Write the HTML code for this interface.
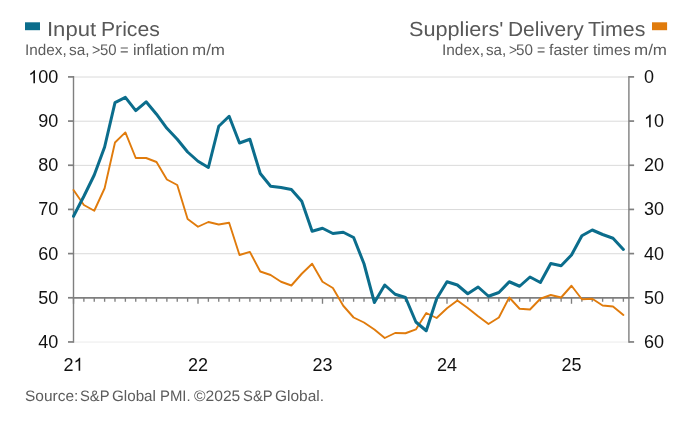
<!DOCTYPE html>
<html><head><meta charset="utf-8">
<style>
html,body{margin:0;padding:0;background:#fff;}
body{width:696px;height:422px;position:relative;overflow:hidden;font-family:"Liberation Sans",sans-serif;}
.t{position:absolute;white-space:nowrap;color:#4a4a4a;}
.yl{position:absolute;left:0;width:58.3px;text-align:right;font-size:18px;line-height:20px;color:#111;}
.yr{position:absolute;left:644px;font-size:18px;line-height:20px;color:#111;}
.xl{position:absolute;top:354.5px;width:40px;text-align:center;font-size:18px;line-height:20px;color:#111;}
svg{position:absolute;left:0;top:0;}
.tk{position:absolute;white-space:pre;transform-origin:0 0;line-height:1.2;}
.gT{font-size:20.3px;top:17.1px;color:#585858;}
.gS{font-size:15.4px;top:41.3px;color:#5c5c5c;}
.gF{font-size:15.2px;top:386.7px;color:#5c5c5c;}

</style></head><body>
<svg width="696" height="422" viewBox="0 0 696 422">
<line x1="73.5" y1="77.02" x2="628.9" y2="77.02" stroke="#dadada" stroke-width="1"/>
<line x1="73.5" y1="121.20" x2="628.9" y2="121.20" stroke="#dadada" stroke-width="1"/>
<line x1="73.5" y1="165.37" x2="628.9" y2="165.37" stroke="#dadada" stroke-width="1"/>
<line x1="73.5" y1="209.54" x2="628.9" y2="209.54" stroke="#dadada" stroke-width="1"/>
<line x1="73.5" y1="253.72" x2="628.9" y2="253.72" stroke="#dadada" stroke-width="1"/>
<line x1="73.5" y1="342.07" x2="628.9" y2="342.07" stroke="#ebebeb" stroke-width="1"/>

<line x1="73.5" y1="76" x2="73.5" y2="342.8" stroke="#7f7f7f" stroke-width="1.4"/>
<line x1="628.9" y1="76" x2="628.9" y2="342.8" stroke="#7f7f7f" stroke-width="1.4"/>
<line x1="73.5" y1="297.88" x2="628.9" y2="297.88" stroke="#7f7f7f" stroke-width="1.7"/>
<line x1="73.50" y1="297.77" x2="73.50" y2="303.77" stroke="#7f7f7f" stroke-width="1.35"/>
<line x1="83.88" y1="297.77" x2="83.88" y2="301.77" stroke="#7f7f7f" stroke-width="1.35"/>
<line x1="94.25" y1="297.77" x2="94.25" y2="301.77" stroke="#7f7f7f" stroke-width="1.35"/>
<line x1="104.62" y1="297.77" x2="104.62" y2="301.77" stroke="#7f7f7f" stroke-width="1.35"/>
<line x1="115.00" y1="297.77" x2="115.00" y2="301.77" stroke="#7f7f7f" stroke-width="1.35"/>
<line x1="125.38" y1="297.77" x2="125.38" y2="301.77" stroke="#7f7f7f" stroke-width="1.35"/>
<line x1="135.75" y1="297.77" x2="135.75" y2="301.77" stroke="#7f7f7f" stroke-width="1.35"/>
<line x1="146.12" y1="297.77" x2="146.12" y2="301.77" stroke="#7f7f7f" stroke-width="1.35"/>
<line x1="156.50" y1="297.77" x2="156.50" y2="301.77" stroke="#7f7f7f" stroke-width="1.35"/>
<line x1="166.88" y1="297.77" x2="166.88" y2="301.77" stroke="#7f7f7f" stroke-width="1.35"/>
<line x1="177.25" y1="297.77" x2="177.25" y2="301.77" stroke="#7f7f7f" stroke-width="1.35"/>
<line x1="187.62" y1="297.77" x2="187.62" y2="301.77" stroke="#7f7f7f" stroke-width="1.35"/>
<line x1="198.00" y1="297.77" x2="198.00" y2="303.77" stroke="#7f7f7f" stroke-width="1.35"/>
<line x1="208.38" y1="297.77" x2="208.38" y2="301.77" stroke="#7f7f7f" stroke-width="1.35"/>
<line x1="218.75" y1="297.77" x2="218.75" y2="301.77" stroke="#7f7f7f" stroke-width="1.35"/>
<line x1="229.12" y1="297.77" x2="229.12" y2="301.77" stroke="#7f7f7f" stroke-width="1.35"/>
<line x1="239.50" y1="297.77" x2="239.50" y2="301.77" stroke="#7f7f7f" stroke-width="1.35"/>
<line x1="249.88" y1="297.77" x2="249.88" y2="301.77" stroke="#7f7f7f" stroke-width="1.35"/>
<line x1="260.25" y1="297.77" x2="260.25" y2="301.77" stroke="#7f7f7f" stroke-width="1.35"/>
<line x1="270.62" y1="297.77" x2="270.62" y2="301.77" stroke="#7f7f7f" stroke-width="1.35"/>
<line x1="281.00" y1="297.77" x2="281.00" y2="301.77" stroke="#7f7f7f" stroke-width="1.35"/>
<line x1="291.38" y1="297.77" x2="291.38" y2="301.77" stroke="#7f7f7f" stroke-width="1.35"/>
<line x1="301.75" y1="297.77" x2="301.75" y2="301.77" stroke="#7f7f7f" stroke-width="1.35"/>
<line x1="312.12" y1="297.77" x2="312.12" y2="301.77" stroke="#7f7f7f" stroke-width="1.35"/>
<line x1="322.50" y1="297.77" x2="322.50" y2="303.77" stroke="#7f7f7f" stroke-width="1.35"/>
<line x1="332.88" y1="297.77" x2="332.88" y2="301.77" stroke="#7f7f7f" stroke-width="1.35"/>
<line x1="343.25" y1="297.77" x2="343.25" y2="301.77" stroke="#7f7f7f" stroke-width="1.35"/>
<line x1="353.62" y1="297.77" x2="353.62" y2="301.77" stroke="#7f7f7f" stroke-width="1.35"/>
<line x1="364.00" y1="297.77" x2="364.00" y2="301.77" stroke="#7f7f7f" stroke-width="1.35"/>
<line x1="374.38" y1="297.77" x2="374.38" y2="301.77" stroke="#7f7f7f" stroke-width="1.35"/>
<line x1="384.75" y1="297.77" x2="384.75" y2="301.77" stroke="#7f7f7f" stroke-width="1.35"/>
<line x1="395.12" y1="297.77" x2="395.12" y2="301.77" stroke="#7f7f7f" stroke-width="1.35"/>
<line x1="405.50" y1="297.77" x2="405.50" y2="301.77" stroke="#7f7f7f" stroke-width="1.35"/>
<line x1="415.88" y1="297.77" x2="415.88" y2="301.77" stroke="#7f7f7f" stroke-width="1.35"/>
<line x1="426.25" y1="297.77" x2="426.25" y2="301.77" stroke="#7f7f7f" stroke-width="1.35"/>
<line x1="436.62" y1="297.77" x2="436.62" y2="301.77" stroke="#7f7f7f" stroke-width="1.35"/>
<line x1="447.00" y1="297.77" x2="447.00" y2="303.77" stroke="#7f7f7f" stroke-width="1.35"/>
<line x1="457.38" y1="297.77" x2="457.38" y2="301.77" stroke="#7f7f7f" stroke-width="1.35"/>
<line x1="467.75" y1="297.77" x2="467.75" y2="301.77" stroke="#7f7f7f" stroke-width="1.35"/>
<line x1="478.12" y1="297.77" x2="478.12" y2="301.77" stroke="#7f7f7f" stroke-width="1.35"/>
<line x1="488.50" y1="297.77" x2="488.50" y2="301.77" stroke="#7f7f7f" stroke-width="1.35"/>
<line x1="498.88" y1="297.77" x2="498.88" y2="301.77" stroke="#7f7f7f" stroke-width="1.35"/>
<line x1="509.25" y1="297.77" x2="509.25" y2="301.77" stroke="#7f7f7f" stroke-width="1.35"/>
<line x1="519.62" y1="297.77" x2="519.62" y2="301.77" stroke="#7f7f7f" stroke-width="1.35"/>
<line x1="530.00" y1="297.77" x2="530.00" y2="301.77" stroke="#7f7f7f" stroke-width="1.35"/>
<line x1="540.38" y1="297.77" x2="540.38" y2="301.77" stroke="#7f7f7f" stroke-width="1.35"/>
<line x1="550.75" y1="297.77" x2="550.75" y2="301.77" stroke="#7f7f7f" stroke-width="1.35"/>
<line x1="561.12" y1="297.77" x2="561.12" y2="301.77" stroke="#7f7f7f" stroke-width="1.35"/>
<line x1="571.50" y1="297.77" x2="571.50" y2="303.77" stroke="#7f7f7f" stroke-width="1.35"/>
<line x1="581.88" y1="297.77" x2="581.88" y2="301.77" stroke="#7f7f7f" stroke-width="1.35"/>
<line x1="592.25" y1="297.77" x2="592.25" y2="301.77" stroke="#7f7f7f" stroke-width="1.35"/>
<line x1="602.62" y1="297.77" x2="602.62" y2="301.77" stroke="#7f7f7f" stroke-width="1.35"/>
<line x1="613.00" y1="297.77" x2="613.00" y2="301.77" stroke="#7f7f7f" stroke-width="1.35"/>
<line x1="623.38" y1="297.77" x2="623.38" y2="301.77" stroke="#7f7f7f" stroke-width="1.35"/>

<line x1="68" y1="76.90" x2="73.5" y2="76.90" stroke="#7f7f7f" stroke-width="1.7"/>
<line x1="628.9" y1="76.90" x2="634.1" y2="76.90" stroke="#7f7f7f" stroke-width="1.7"/>
<line x1="68" y1="121.08" x2="73.5" y2="121.08" stroke="#7f7f7f" stroke-width="1.7"/>
<line x1="628.9" y1="121.08" x2="634.1" y2="121.08" stroke="#7f7f7f" stroke-width="1.7"/>
<line x1="68" y1="165.25" x2="73.5" y2="165.25" stroke="#7f7f7f" stroke-width="1.7"/>
<line x1="628.9" y1="165.25" x2="634.1" y2="165.25" stroke="#7f7f7f" stroke-width="1.7"/>
<line x1="68" y1="209.42" x2="73.5" y2="209.42" stroke="#7f7f7f" stroke-width="1.7"/>
<line x1="628.9" y1="209.42" x2="634.1" y2="209.42" stroke="#7f7f7f" stroke-width="1.7"/>
<line x1="68" y1="253.60" x2="73.5" y2="253.60" stroke="#7f7f7f" stroke-width="1.7"/>
<line x1="628.9" y1="253.60" x2="634.1" y2="253.60" stroke="#7f7f7f" stroke-width="1.7"/>
<line x1="68" y1="297.77" x2="73.5" y2="297.77" stroke="#7f7f7f" stroke-width="1.7"/>
<line x1="628.9" y1="297.77" x2="634.1" y2="297.77" stroke="#7f7f7f" stroke-width="1.7"/>
<line x1="68" y1="341.95" x2="73.5" y2="341.95" stroke="#7f7f7f" stroke-width="1.7"/>
<line x1="628.9" y1="341.95" x2="634.1" y2="341.95" stroke="#7f7f7f" stroke-width="1.7"/>

<polyline points="73.50,190.00 83.88,205.00 94.25,210.75 104.62,188.25 115.00,142.50 125.38,132.40 135.75,158.00 146.12,158.00 156.50,162.00 166.88,179.50 177.25,185.00 187.62,219.00 198.00,226.75 208.38,222.00 218.75,224.50 229.12,222.75 239.50,255.00 249.88,251.90 260.25,271.50 270.62,275.00 281.00,281.75 291.38,285.50 301.75,273.75 312.12,263.75 322.50,281.75 332.88,288.00 343.25,305.75 353.62,317.50 364.00,322.50 374.38,329.50 384.75,338.00 395.12,333.00 405.50,333.25 415.88,329.40 426.25,313.00 436.62,318.00 447.00,308.25 457.38,300.50 467.75,308.00 478.12,316.25 488.50,324.00 498.88,317.50 509.25,297.50 519.62,308.75 530.00,309.50 540.38,298.75 550.75,295.00 561.12,297.50 571.50,285.75 581.88,299.25 592.25,298.75 602.62,305.50 613.00,306.50 623.38,315.00" fill="none" stroke="#e07b0c" stroke-width="1.9" stroke-linejoin="round" stroke-linecap="round"/>
<polyline points="73.50,216.25 83.88,196.25 94.25,175.00 104.62,147.00 115.00,102.60 125.38,97.40 135.75,110.60 146.12,101.80 156.50,114.20 166.88,128.30 177.25,139.20 187.62,152.00 198.00,161.25 208.38,167.50 218.75,126.25 229.12,116.25 239.50,143.00 249.88,139.25 260.25,173.50 270.62,186.25 281.00,187.50 291.38,189.40 301.75,201.25 312.12,231.25 322.50,228.25 332.88,233.50 343.25,232.25 353.62,237.50 364.00,263.75 374.38,302.50 384.75,285.00 395.12,294.25 405.50,297.50 415.88,322.00 426.25,330.75 436.62,298.75 447.00,281.75 457.38,285.00 467.75,293.75 478.12,287.00 488.50,296.25 498.88,292.50 509.25,281.75 519.62,286.25 530.00,277.00 540.38,282.50 550.75,263.50 561.12,265.75 571.50,255.00 581.88,235.75 592.25,230.00 602.62,234.50 613.00,238.25 623.38,249.50" fill="none" stroke="#0b6d8c" stroke-width="3.0" stroke-linejoin="round" stroke-linecap="round"/>
<path d="M763 0H583V1147Q518 1085 412.5 1023Q307 961 223 930V1104Q374 1175 487 1276Q600 1377 647 1472H763Z" transform="translate(28.268,83.140) scale(0.008789,-0.008789)" fill="#111"/>
<path d="M763 0H583V1147Q518 1085 412.5 1023Q307 961 223 930V1104Q374 1175 487 1276Q600 1377 647 1472H763Z" transform="translate(644.000,127.315) scale(0.008789,-0.008789)" fill="#111"/>
<path d="M763 0H583V1147Q518 1085 412.5 1023Q307 961 223 930V1104Q374 1175 487 1276Q600 1377 647 1472H763Z" transform="translate(73.500,370.740) scale(0.008789,-0.008789)" fill="#111"/>
<rect x="25" y="22.3" width="15" height="7.9" fill="#0b6d8c"/>
<rect x="652" y="22.3" width="15.1" height="7.9" fill="#e07b0c"/>
</svg>
<div style="will-change:transform;position:absolute;left:0;top:0;width:696px;height:422px;">
<span class="tk gT" style="left:46.60px;transform:scaleX(1.088) rotate(0.03deg)">Input</span>
<span class="tk gT" style="left:101.16px;transform:scaleX(1.043) rotate(0.03deg)">Prices</span>
<span class="tk gT" style="left:408.90px;transform:scaleX(1.068) rotate(0.03deg)">Suppliers'</span>
<span class="tk gT" style="left:507.90px;transform:scaleX(1.033) rotate(0.03deg)">Delivery</span>
<span class="tk gT" style="left:587.70px;transform:scaleX(1.053) rotate(0.03deg)">Times</span>
<span class="tk gS" style="left:25.15px;transform:scaleX(0.993) rotate(0.03deg)">Index,</span>
<span class="tk gS" style="left:69.00px;transform:scaleX(1.000) rotate(0.03deg)">sa,</span>
<span class="tk gS" style="left:92.23px;transform:scaleX(0.925) rotate(0.03deg)">&gt;</span>
<span class="tk gS" style="left:99.88px;transform:scaleX(0.971) rotate(0.03deg)">50</span>
<span class="tk gS" style="left:119.55px;transform:scaleX(0.953) rotate(0.03deg)">=</span>
<span class="tk gS" style="left:132.78px;transform:scaleX(1.049) rotate(0.03deg)">inflation</span>
<span class="tk gS" style="left:191.72px;transform:scaleX(1.104) rotate(0.03deg)">m/m</span>
<span class="tk gS" style="left:442.00px;transform:scaleX(1.000) rotate(0.03deg)">Index,</span>
<span class="tk gS" style="left:486.13px;transform:scaleX(0.987) rotate(0.03deg)">sa,</span>
<span class="tk gS" style="left:508.82px;transform:scaleX(0.893) rotate(0.03deg)">&gt;</span>
<span class="tk gS" style="left:515.68px;transform:scaleX(0.989) rotate(0.03deg)">50</span>
<span class="tk gS" style="left:536.94px;transform:scaleX(0.916) rotate(0.03deg)">=</span>
<span class="tk gS" style="left:549.25px;transform:scaleX(1.028) rotate(0.03deg)">faster</span>
<span class="tk gS" style="left:593.10px;transform:scaleX(1.021) rotate(0.03deg)">times</span>
<span class="tk gS" style="left:633.72px;transform:scaleX(1.104) rotate(0.03deg)">m/m</span>
<span class="tk gF" style="left:24.85px;transform:scaleX(1.020) rotate(0.03deg)">Source:</span>
<span class="tk gF" style="left:79.90px;transform:scaleX(0.971) rotate(0.03deg)">S&amp;P</span>
<span class="tk gF" style="left:112.00px;transform:scaleX(1.000) rotate(0.03deg)">Global</span>
<span class="tk gF" style="left:159.58px;transform:scaleX(0.982) rotate(0.03deg)">PMI.</span>
<span class="tk gF" style="left:193.56px;transform:scaleX(1.029) rotate(0.03deg)">©2025</span>
<span class="tk gF" style="left:242.84px;transform:scaleX(0.976) rotate(0.03deg)">S&amp;P</span>
<span class="tk gF" style="left:274.97px;transform:scaleX(1.018) rotate(0.03deg)">Global.</span>
<div class="yl" style="top:66.90px"><span style="visibility:hidden">1</span>00</div>
<div class="yr" style="top:66.90px">0</div>
<div class="yl" style="top:111.08px">90</div>
<div class="yr" style="top:111.08px"><span style="visibility:hidden">1</span>0</div>
<div class="yl" style="top:155.25px">80</div>
<div class="yr" style="top:155.25px">20</div>
<div class="yl" style="top:199.42px">70</div>
<div class="yr" style="top:199.42px">30</div>
<div class="yl" style="top:243.60px">60</div>
<div class="yr" style="top:243.60px">40</div>
<div class="yl" style="top:287.77px">50</div>
<div class="yr" style="top:287.77px">50</div>
<div class="yl" style="top:331.95px">40</div>
<div class="yr" style="top:331.95px">60</div>

<div class="xl" style="left:53.50px">2<span style="visibility:hidden">1</span></div>
<div class="xl" style="left:178.00px">22</div>
<div class="xl" style="left:302.50px">23</div>
<div class="xl" style="left:427.00px">24</div>
<div class="xl" style="left:551.50px">25</div>

</div>
</body></html>
